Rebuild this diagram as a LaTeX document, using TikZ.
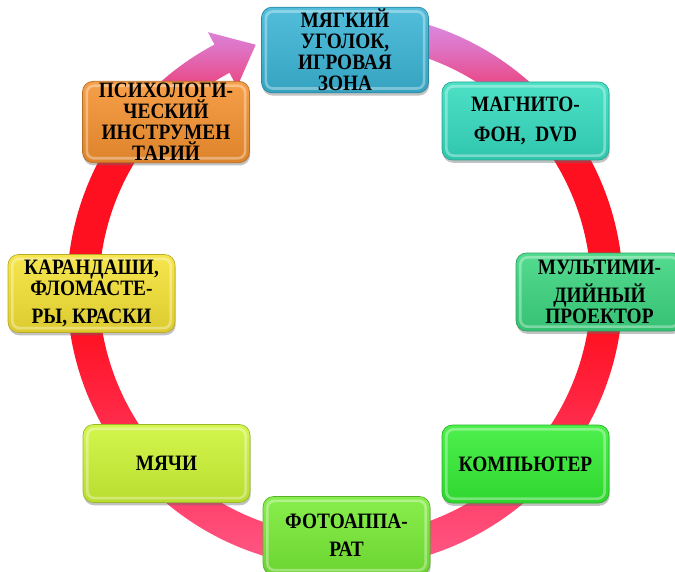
\documentclass[tikz,border=0pt]{standalone}
\usepackage{fontspec}
\setmainfont[FakeStretch=0.88]{Liberation Serif}
\usetikzlibrary{shadows}
\definecolor{softblue}{RGB}{59,181,214}
\definecolor{magnteal}{RGB}{53,220,192}
\definecolor{projgreen}{RGB}{60,214,128}
\definecolor{compgreen}{RGB}{53,238,53}
\definecolor{photogreen}{RGB}{120,236,53}
\definecolor{ballslime}{RGB}{205,245,53}
\definecolor{pensyellow}{RGB}{245,226,53}
\definecolor{psychorange}{RGB}{245,146,48}
\definecolor{ringpink}{RGB}{255,96,144}
\definecolor{ringrose}{RGB}{255,58,98}
\definecolor{ringred}{RGB}{255,16,32}
\definecolor{ringmag}{RGB}{236,58,112}
\definecolor{ringlilac}{RGB}{224,112,192}
\definecolor{ringviolet}{RGB}{216,144,232}
\pgfdeclareverticalshading{ringshade}{100bp}{color(0bp)=(ringpink); color(25bp)=(ringpink);
  color(35bp)=(ringrose); color(48bp)=(ringred); color(62bp)=(ringred); color(68bp)=(ringmag);
  color(72bp)=(ringlilac); color(75bp)=(ringviolet); color(100bp)=(ringviolet)}
\tikzstyle{block} = [rectangle, rounded corners=6pt, minimum width=3.34cm, minimum height=1.56cm,
    align=center, inner sep=1pt, font=\fontsize{12.5}{12}\selectfont\bfseries,
    drop shadow={shadow xshift=0.4pt, shadow yshift=-1.6pt, opacity=0.4, fill=black!60},
    path picture={\draw[white, opacity=0.35, line width=1.5pt, rounded corners=4pt]
      ([shift={(2.5pt,2.5pt)}]path picture bounding box.south west) rectangle
      ([shift={(-2.5pt,-2.5pt)}]path picture bounding box.north east);}]
\tikzset{glossy/.style={draw=#1!75!black, top color=#1!88!white, bottom color=#1!90!black}}

\begin{document}
\begin{tikzpicture}
  \useasboundingbox (0,0) rectangle (13.5,11.42);
  \begin{scope}[shift={(6.90,5.62)}]
    \shade[shading=ringshade] (80:5.56) arc[start angle=80, end angle=-242, radius=5.56]
      -- (118:5.84) -- (110:5.22) -- (118:4.60) -- (118:4.92)
      arc[start angle=-242, end angle=80, radius=4.92] -- cycle;
  \end{scope}
  \node[block, glossy=softblue] (soft) at (6.90,10.42) {МЯГКИЙ\\УГОЛОК,\\ИГРОВАЯ\\ЗОНА};
  \node[block, glossy=magnteal] (magn) at (10.51,9.00) {МАГНИТО-\\[5pt]ФОН,\ \ DVD};
  \node[block, glossy=projgreen] (proj) at (11.99,5.58) {МУЛЬТИМИ-\\[4pt]ДИЙНЫЙ\\ПРОЕКТОР};
  \node[block, glossy=compgreen] (comp) at (10.51,2.14) {КОМПЬЮТЕР};
  \node[block, glossy=photogreen] (photo) at (6.93,0.71) {ФОТОАППА-\\[4pt]РАТ};
  \node[block, glossy=ballslime] (balls) at (3.33,2.15) {МЯЧИ};
  \node[block, glossy=pensyellow] (pens) at (1.83,5.55) {КАРАНДАШИ,\\ФЛОМАСТЕ-\\[4pt]РЫ, КРАСКИ};
  \node[block, glossy=psychorange] (psych) at (3.32,8.98) {ПСИХОЛОГИ-\\ЧЕСКИЙ\\ИНСТРУМЕН\\ТАРИЙ};
\end{tikzpicture}
\end{document}
